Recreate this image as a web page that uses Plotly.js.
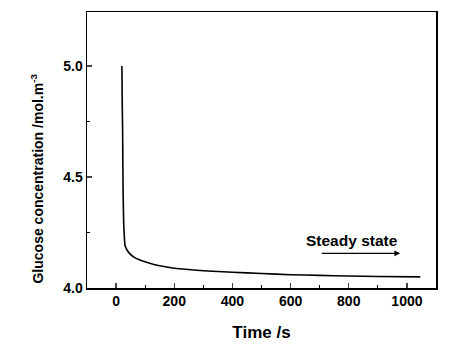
<!DOCTYPE html>
<html><head><meta charset="utf-8">
<script src="https://cdn.plot.ly/plotly-3.0.1.min.js"></script>
<style>html,body{margin:0;padding:0;background:#fff}#c{width:474px;height:360px}</style>
</head><body><div id="c"></div>
<script>
const timeS = [20, 21, 22.5, 24, 26, 27.5, 31, 38, 47, 60, 82, 105, 150, 200, 300, 400, 500, 600, 700, 800, 900, 1046];
const glucose = [5.0, 4.85, 4.7, 4.45, 4.3, 4.25, 4.19, 4.17, 4.155, 4.14, 4.126, 4.116, 4.10, 4.089, 4.078, 4.071, 4.065, 4.06, 4.057, 4.054, 4.052, 4.05];
const xTicks = [0, 200, 400, 600, 800, 1000];
const yTicks = [4.0, 4.5, 5.0];
const yTickText = ['4.0', '4.5', '5.0'];
const yTitle = 'Glucose concentration /mol.m<sup>-3</sup>';
const noteText = 'Steady state';
const arrowFrom = [702, 4.156];
const arrowTo = [977, 4.156];
const notePos = [812, 4.213];

const font = {family: 'Liberation Sans, Arial, sans-serif', color: '#000'};
Plotly.newPlot('c', [{
  x: timeS, y: glucose, type: 'scatter', mode: 'lines',
  line: {color: '#000', width: 1.6, shape: 'spline', smoothing: 0.5}
}], {
  width: 474, height: 360,
  margin: {l: 87, r: 38, t: 12, b: 72},
  paper_bgcolor: '#fff', plot_bgcolor: '#fff',
  showlegend: false,
  font: font,
  xaxis: {
    range: [-100, 1100], tickvals: xTicks, ticks: 'inside', ticklen: 5, tickwidth: 1.3,
    showline: true, mirror: true, linecolor: '#000', linewidth: 1.5, showgrid: false, zeroline: false,
    minor: {ticks: 'inside', dtick: 100, ticklen: 3, tickwidth: 1.2, tickcolor: '#000', showgrid: false},
    tickfont: {family: font.family, size: 14, weight: 'bold', color: '#000'},
    title: {text: '<b>Time /s</b>', font: {family: font.family, size: 17, color: '#000'}, standoff: 18}
  },
  yaxis: {
    range: [4.0, 5.243], tickvals: yTicks, ticktext: yTickText, ticks: 'inside', ticklen: 5, tickwidth: 1.3,
    showline: true, mirror: true, linecolor: '#000', linewidth: 1.5, showgrid: false, zeroline: false,
    minor: {ticks: 'inside', dtick: 0.25, ticklen: 3, tickwidth: 1.2, tickcolor: '#000', showgrid: false},
    tickfont: {family: font.family, size: 14, weight: 'bold', color: '#000'}
  },
  annotations: [
    {x: -0.143, y: 0.397, xref: 'paper', yref: 'paper', xanchor: 'center', yanchor: 'middle',
     text: '<b>' + yTitle + '</b>', textangle: -90, showarrow: false,
     font: {family: font.family, size: 14, color: '#000'}},
    {x: notePos[0], y: notePos[1], xref: 'x', yref: 'y', text: '<b>' + noteText + '</b>', showarrow: false,
     font: {family: font.family, size: 15.5, color: '#000'}},
    {x: arrowTo[0], y: arrowTo[1], ax: arrowFrom[0], ay: arrowFrom[1], xref: 'x', yref: 'y', axref: 'x', ayref: 'y',
     text: '', showarrow: true, arrowhead: 2, arrowsize: 0.9, arrowwidth: 1.3, arrowcolor: '#000'}
  ]
}, {displayModeBar: false, staticPlot: true});
</script></body></html>
